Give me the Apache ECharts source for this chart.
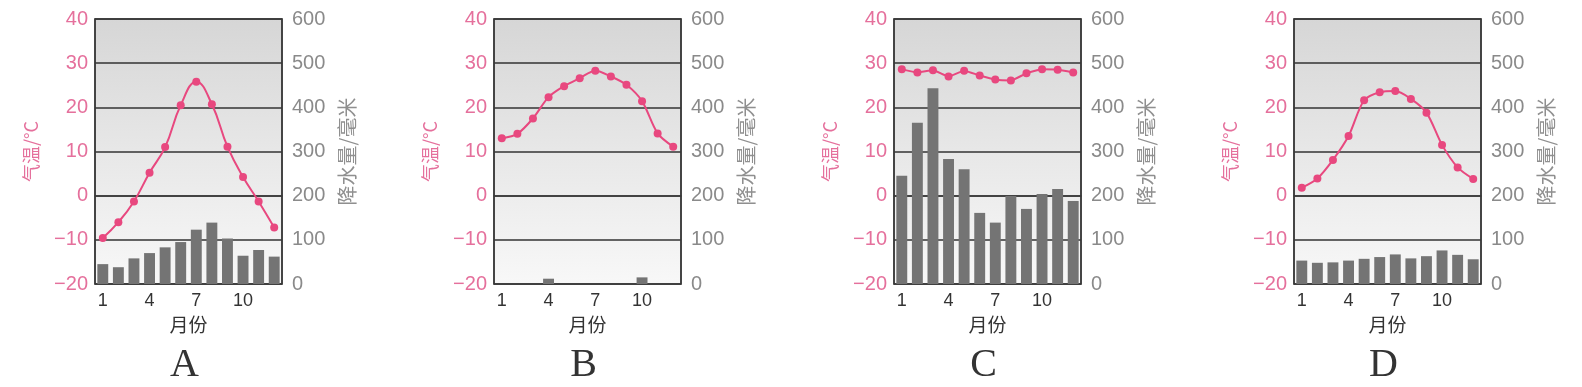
<!DOCTYPE html>
<html>
<head>
<meta charset="utf-8">
<script src="https://cdn.jsdelivr.net/npm/echarts@6/dist/echarts.min.js"></script>
<style>
html,body{margin:0;padding:0;background:#fff;}
#c{width:1582px;height:387px;}
</style>
</head>
<body>
<div id="c"></div>
<script>
const months = ['1','2','3','4','5','6','7','8','9','10','11','12'];
const panelNames = ['A','B','C','D'];
const tempA = [-9.6,-6.0,-1.3,5.2,11.0,20.5,25.8,20.7,11.1,4.2,-1.3,-7.2];
const tempB = [13.0,14.0,17.5,22.3,24.8,26.6,28.3,27.0,25.1,21.4,14.1,11.1];
const tempC = [28.6,27.9,28.4,27.0,28.3,27.2,26.3,26.1,27.7,28.6,28.5,27.9];
const tempD = [1.8,3.9,8.1,13.5,21.6,23.4,23.7,21.9,18.8,11.5,6.4,3.8];
const precA = [45,38,58,70,83,95,123,139,103,64,77,62];
const precB = [0,0,0,12,0,0,0,0,0,15,0,0];
const precC = [245,365,443,283,260,161,139,199,170,204,215,188];
const precD = [53,48,49,53,57,61,67,58,63,76,66,56];
const tempTicks = [-20,40,10];
const precTicks = [0,600,100];
const tempName = '气温/°C';
const precName = '降水量/毫米';
const monthName = '月份';

const temps = [tempA,tempB,tempC,tempD];
const precs = [precA,precB,precC,precD];
const smooths = [0.45,0.3,0.15,0.3];

const lefts = [95,494,894,1294];
const W = 187, TOP = 19, H = 265;
const pink = '#e8487f';
const pinkLabel = '#e5709c';
const font = 'Liberation Sans, Arial, sans-serif';

const grid=[], xAxis=[], yAxis=[], series=[], title=[];
lefts.forEach((L,i)=>{
  grid.push({left:L, top:TOP, width:W, height:H, show:true, borderColor:'#3a3a3a', borderWidth:1.5,
    backgroundColor:new echarts.graphic.LinearGradient(0,0,0,1,[{offset:0,color:'#d6d6d6'},{offset:0.55,color:'#e9e9e9'},{offset:1,color:'#f8f8f8'}])});
  xAxis.push({type:'category', gridIndex:i, data:months, boundaryGap:true,
    axisLine:{show:true,lineStyle:{color:'#3a3a3a',width:1.5}}, axisTick:{show:false},
    axisLabel:{interval:2, color:'#333', fontSize:18, fontFamily:font, margin:8},
    name:monthName, nameLocation:'middle', nameGap:31, nameTextStyle:{color:'#333', fontSize:19, fontFamily:'Noto Sans CJK SC'}});
  yAxis.push({type:'value', gridIndex:i, position:'left', min:tempTicks[0], max:tempTicks[1], interval:tempTicks[2],
    axisLine:{show:true,lineStyle:{color:'#3a3a3a',width:1.5}}, axisTick:{show:false},
    splitLine:{show:true,lineStyle:{color:'#333',width:1.5}},
    axisLabel:{color:pinkLabel, fontSize:20, fontFamily:font, margin:7,
      formatter:v=> v<0 ? '\u2212'+Math.abs(v) : String(v)},
    name:tempName, nameLocation:'middle', nameRotate:90, nameGap:55,
    nameTextStyle:{color:pinkLabel, fontSize:18, fontFamily:'Noto Sans CJK SC'}});
  yAxis.push({type:'value', gridIndex:i, position:'right', min:precTicks[0], max:precTicks[1], interval:precTicks[2],
    axisLine:{show:true,lineStyle:{color:'#3a3a3a',width:1.5}}, axisTick:{show:false},
    splitLine:{show:false},
    axisLabel:{color:'#8a8a8a', fontSize:20, fontFamily:font, margin:10},
    name:precName, nameLocation:'middle', nameRotate:90, nameGap:55,
    nameTextStyle:{color:'#8f8f8f', fontSize:20, fontFamily:'Noto Sans CJK SC'}});
  series.push({type:'bar', xAxisIndex:i, yAxisIndex:2*i+1, data:precs[i], barWidth:'70%',
    itemStyle:{color:'#747474'}, silent:true, z:2});
  series.push({type:'line', xAxisIndex:i, yAxisIndex:2*i, data:temps[i], smooth:smooths[i],
    symbol:'circle', symbolSize:8, lineStyle:{color:pink,width:2}, itemStyle:{color:pink}, z:3});
  title.push({text:panelNames[i], left:L+W/2-9, top:340, textAlign:'center',
    textStyle:{fontFamily:'Liberation Serif, serif', fontWeight:'normal', fontSize:40, color:'#333'}});
});

const chart = echarts.init(document.getElementById('c'), null, {renderer:'canvas'});
chart.setOption({animation:false, backgroundColor:'#fff', title, grid, xAxis, yAxis, series});
</script>
</body>
</html>
